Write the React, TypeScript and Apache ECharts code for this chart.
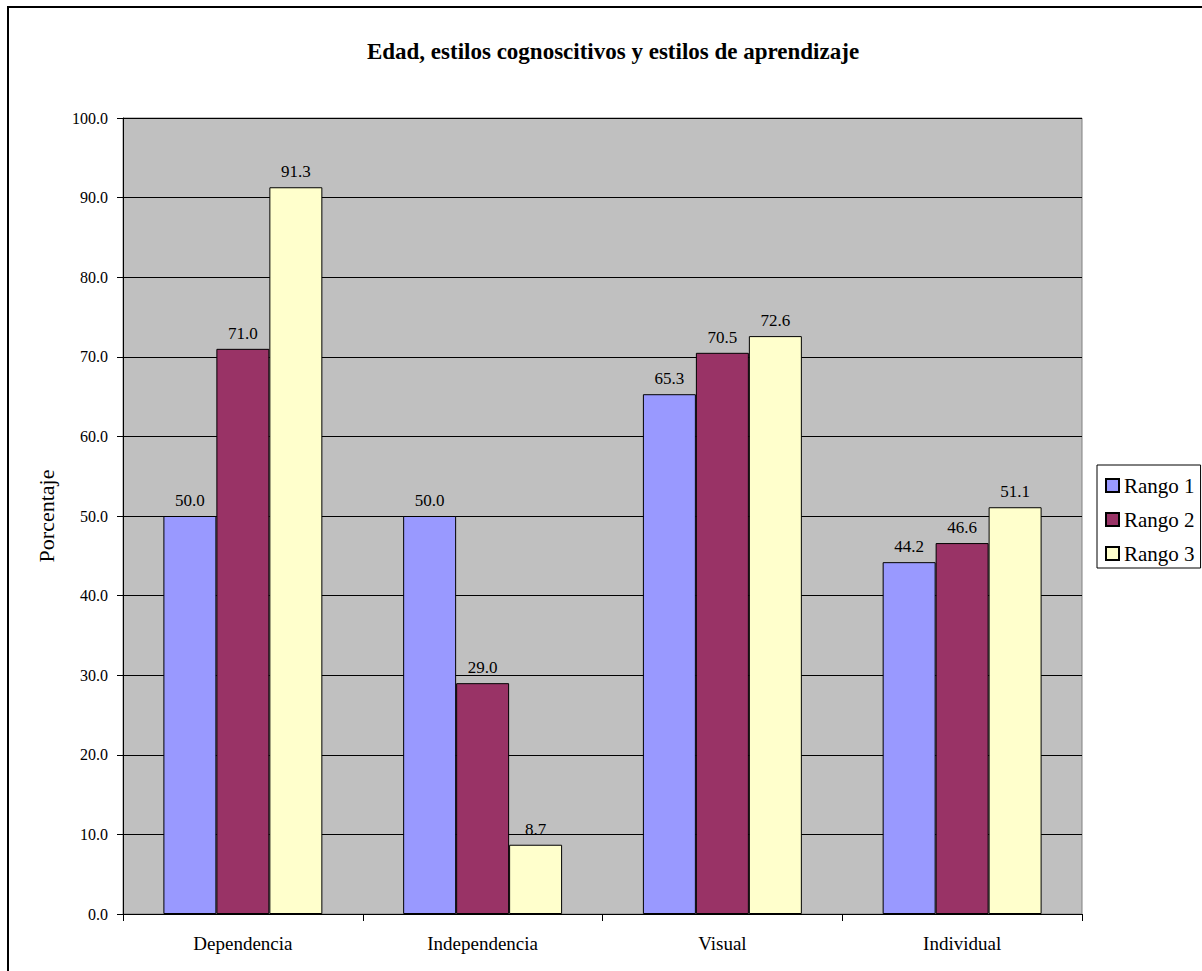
import React, { useEffect, useRef } from "react";
import * as echarts from "echarts";

const categories = ["Dependencia", "Independencia", "Visual", "Individual"];
const seriesNames = ["Rango 1", "Rango 2", "Rango 3"];
const rango1 = [50.0, 50.0, 65.3, 44.2];
const rango2 = [71.0, 29.0, 70.5, 46.6];
const rango3 = [91.3, 8.7, 72.6, 51.1];
const colors = ["#9999FF", "#993366", "#FFFFCC"];
const yTicks = { min: 0, max: 100, interval: 10 };

const FONT = "'Liberation Serif', 'Times New Roman', serif";

export default function App() {
  const ref = useRef<HTMLDivElement>(null);
  useEffect(() => {
    if (!ref.current) return;
    const chart = echarts.init(ref.current, null, { renderer: "svg" });
    const data = [rango1, rango2, rango3];
    chart.setOption({
      animation: false,
      backgroundColor: "#ffffff",
      textStyle: { fontFamily: FONT, color: "#000" },
      title: {
        text: "Edad, estilos cognoscitivos y estilos de aprendizaje",
        left: 608,
        textAlign: "center",
        top: 35,
        textStyle: { fontFamily: FONT, fontSize: 23, fontWeight: "bold", color: "#000" },
      },
      graphic: [
        {
          type: "rect",
          shape: { x: 8, y: 7, width: 1260, height: 1000 },
          style: { fill: "none", stroke: "#000", lineWidth: 2 },
          silent: true,
        },
      ],
      legend: {
        orient: "vertical",
        left: 1097,
        top: 465,
        data: seriesNames,
        icon: "rect",
        itemWidth: 13,
        itemHeight: 13,
        itemGap: 13,
        padding: [10, 6, 4, 8],
        borderColor: "#000",
        borderWidth: 1,
        backgroundColor: "#fff",
        textStyle: { fontFamily: FONT, fontSize: 21, color: "#000" },
      },
      grid: {
        left: 123,
        top: 118,
        right: 120,
        bottom: 57,
        show: true,
        backgroundColor: "#C0C0C0",
        borderColor: "#808080",
        borderWidth: 1,
      },
      xAxis: {
        type: "category",
        data: categories,
        axisLine: { lineStyle: { color: "#000", width: 1 } },
        axisTick: { show: true, length: 7, lineStyle: { color: "#000" } },
        axisLabel: { fontFamily: FONT, fontSize: 19, color: "#000", margin: 20 },
      },
      yAxis: {
        type: "value",
        min: yTicks.min,
        max: yTicks.max,
        interval: yTicks.interval,
        name: "Porcentaje",
        nameLocation: "middle",
        nameGap: 66,
        nameTextStyle: { fontFamily: FONT, fontSize: 22, color: "#000" },
        axisLine: { show: true, lineStyle: { color: "#000", width: 1 } },
        axisTick: { show: true, length: 6, lineStyle: { color: "#000" } },
        axisLabel: {
          fontFamily: FONT,
          fontSize: 16,
          color: "#000",
          margin: 15,
          formatter: (v: number) => v.toFixed(1),
        },
        splitLine: { show: true, lineStyle: { color: "#000", width: 1 } },
      },
      series: seriesNames.map((name, i) => ({
        name,
        type: "bar",
        data: data[i],
        barGap: "0%",
        barCategoryGap: "33.7%",
        itemStyle: { color: colors[i], borderColor: "#000", borderWidth: 1 },
        label: {
          show: true,
          position: "top",
          distance: 7,
          fontFamily: FONT,
          fontSize: 17,
          color: "#000",
          formatter: (p: any) => Number(p.value).toFixed(1),
        },
      })),
    });
    return () => chart.dispose();
  }, []);
  return (
    <div
      ref={ref}
      style={{ position: "absolute", left: 0, top: 0, width: 1202, height: 971 }}
    />
  );
}
